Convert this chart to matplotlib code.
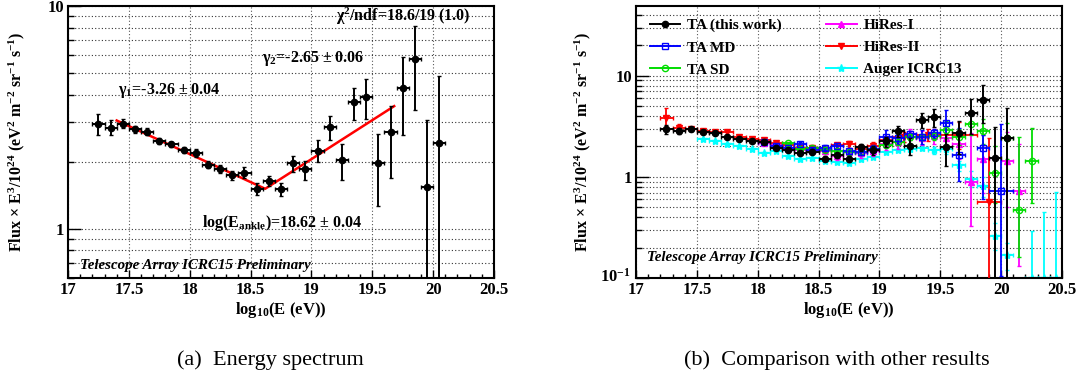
import matplotlib
matplotlib.use('Agg')
import matplotlib.pyplot as plt
from matplotlib.ticker import FixedLocator, FuncFormatter, NullFormatter
from matplotlib.lines import Line2D
from matplotlib.transforms import ScaledTranslation
import numpy as np

plt.rcParams['font.family'] = ['Liberation Serif', 'DejaVu Serif']
plt.rcParams['font.weight'] = 'bold'
plt.rcParams['mathtext.fontset'] = 'custom'
plt.rcParams['mathtext.rm'] = 'Liberation Serif:bold'
plt.rcParams['mathtext.it'] = 'Liberation Serif:bold:italic'
plt.rcParams['mathtext.bf'] = 'Liberation Serif:bold'

# ---------------- data ----------------
ta_x = [17.25, 17.35, 17.45, 17.55, 17.65, 17.75, 17.85, 17.95, 18.05, 18.15,
        18.25, 18.35, 18.45, 18.55, 18.65, 18.75, 18.85, 18.95, 19.05, 19.15,
        19.25, 19.35, 19.45, 19.55, 19.65, 19.75, 19.85, 19.95, 20.05]
ta_y = [2.96, 2.84, 2.96, 2.80, 2.73, 2.47, 2.39, 2.26, 2.19, 1.94,
        1.85, 1.74, 1.78, 1.51, 1.64, 1.50, 1.97, 1.86, 2.24, 2.85,
        2.03, 3.69, 3.91, 1.97, 2.72, 4.29, 5.80, 1.53, 2.42]
ta_hi = [3.28, 3.06, 3.10, 2.90, 2.82, 2.55, 2.46, 2.33, 2.28, 2.02,
         1.93, 1.82, 1.89, 1.60, 1.73, 1.60, 2.12, 2.02, 2.49, 3.19,
         2.40, 4.30, 4.69, 2.67, 3.56, 5.93, 8.13, 3.08, 4.85]
ta_lo = [2.64, 2.64, 2.82, 2.70, 2.64, 2.40, 2.32, 2.19, 2.10, 1.87,
         1.77, 1.66, 1.68, 1.42, 1.55, 1.40, 1.80, 1.66, 1.99, 2.49,
         1.66, 3.06, 3.10, 1.27, 1.69, 2.64, 3.42, 0.01, 0.01]

fit_x = [17.40, 18.62, 19.68]
fit_y = [3.06, 1.51, 3.55]

md_x = [18.05, 18.15, 18.25, 18.35, 18.45, 18.55, 18.65, 18.75, 18.85, 18.95,
        19.05, 19.15, 19.25, 19.35, 19.45, 19.55, 19.65, 19.85, 20.00]
md_xe = [0.05]*17 + [0.05, 0.10]
md_y = [2.19, 2.02, 1.93, 2.10, 1.85, 1.95, 2.03, 1.81, 1.78, 1.90,
        2.48, 2.41, 2.63, 2.48, 2.73, 3.42, 1.64, 1.95, 0.73]
md_hi = [2.27, 2.10, 2.02, 2.20, 1.95, 2.06, 2.15, 1.93, 1.92, 2.06,
         2.90, 2.70, 2.85, 2.90, 3.00, 4.60, 3.06, 2.60, 3.30]
md_lo = [2.11, 1.94, 1.85, 2.00, 1.75, 1.84, 1.91, 1.69, 1.64, 1.74,
         2.10, 2.12, 2.42, 2.10, 2.45, 1.88, 0.91, 0.60, 0.105]

sd_x = [18.25, 18.35, 18.45, 18.55, 18.65, 18.75, 18.85, 18.95, 19.05, 19.15,
        19.25, 19.35, 19.45, 19.55, 19.65, 19.75, 19.85, 19.95, 20.05, 20.15,
        20.25]
sd_y = [2.14, 1.88, 1.95, 1.85, 1.80, 1.75, 1.75, 1.88, 2.05, 2.20,
        2.48, 2.48, 2.55, 2.94, 2.48, 3.34, 2.84, 1.09, 2.45, 0.475,
        1.45]
sd_hi = [2.18, 1.92, 1.99, 1.89, 1.84, 1.80, 1.80, 1.95, 2.13, 2.30,
         2.62, 2.65, 2.78, 3.60, 3.00, 4.30, 3.70, 2.00, 3.40, 2.50,
         3.06]
sd_lo = [2.10, 1.84, 1.91, 1.81, 1.76, 1.70, 1.70, 1.81, 1.97, 2.10,
         2.34, 2.31, 2.32, 2.40, 2.05, 2.60, 2.10, 0.55, 1.50, 0.16,
         0.55]

h1_x = [18.05, 18.15, 18.25, 18.35, 18.45, 18.55, 18.65, 18.75, 18.85, 18.95,
        19.05, 19.15, 19.25, 19.35, 19.45, 19.55, 19.65, 19.75, 19.85, 20.05,
        20.15]
h1_y = [2.15, 2.05, 1.95, 1.85, 1.85, 1.80, 1.60, 1.75, 1.71, 1.80,
        2.10, 2.20, 2.63, 2.45, 2.55, 2.45, 2.10, 0.90, 1.50, 1.45,
        0.73]
h1_hi = [2.22, 2.12, 2.03, 1.94, 1.95, 1.92, 1.72, 1.90, 1.88, 2.00,
         2.35, 2.50, 2.95, 2.85, 3.00, 3.00, 2.80, 2.70, 2.60, 2.80,
         2.10]
h1_lo = [2.08, 1.98, 1.87, 1.76, 1.75, 1.68, 1.48, 1.60, 1.54, 1.60,
         1.85, 1.90, 2.30, 2.05, 2.10, 1.90, 1.50, 0.33, 0.70, 0.50,
         0.13]

h2_x = [17.25, 17.35, 17.45, 17.55, 17.65, 17.75, 17.85, 17.95, 18.05, 18.15,
        18.25, 18.35, 18.45, 18.55, 18.65, 18.75, 18.85, 18.95, 19.05, 19.20,
        19.40, 19.65, 19.90]
h2_xe = [0.05]*19 + [0.10, 0.10, 0.15, 0.10]
h2_y = [3.80, 3.05, 3.00, 2.85, 2.80, 2.75, 2.50, 2.35, 2.30, 2.15,
        2.05, 1.95, 1.95, 1.85, 2.05, 2.10, 1.90, 2.00, 2.30, 2.50,
        2.60, 2.60, 0.56]
h2_hi = [4.80, 3.30, 3.15, 2.95, 2.90, 2.85, 2.60, 2.45, 2.40, 2.25,
         2.15, 2.05, 2.06, 1.97, 2.18, 2.25, 2.06, 2.20, 2.55, 2.80,
         2.95, 3.50, 2.40]
h2_lo = [3.10, 2.80, 2.85, 2.75, 2.70, 2.65, 2.40, 2.25, 2.20, 2.05,
         1.95, 1.85, 1.84, 1.73, 1.92, 1.95, 1.74, 1.80, 2.05, 2.20,
         2.25, 1.90, 0.01]

au_x = [17.55, 17.65, 17.75, 17.85, 17.95, 18.05, 18.15, 18.25, 18.35, 18.45,
        18.55, 18.65, 18.75, 18.85, 18.95, 19.05, 19.15, 19.25, 19.35, 19.45,
        19.55, 19.65, 19.75, 19.85, 19.95, 20.05, 20.25, 20.35, 20.45]
au_y = [2.35, 2.27, 2.10, 2.03, 1.88, 1.71, 1.81, 1.62, 1.49, 1.55,
        1.45, 1.40, 1.38, 1.49, 1.59, 1.75, 1.86, 1.88, 1.95, 1.84,
        1.88, 1.30, 0.96, 0.81, 0.26, 0.167, 0.10, 0.10, 0.10]
au_hi = [2.39, 2.31, 2.14, 2.07, 1.92, 1.75, 1.85, 1.66, 1.53, 1.59,
         1.49, 1.44, 1.42, 1.54, 1.64, 1.81, 1.93, 1.97, 2.06, 1.98,
         2.06, 1.45, 1.15, 1.00, 0.35, 0.22, 0.29, 0.45, 0.71]
au_lo = [2.31, 2.23, 2.06, 1.99, 1.84, 1.67, 1.77, 1.58, 1.45, 1.51,
         1.41, 1.36, 1.34, 1.44, 1.54, 1.69, 1.79, 1.79, 1.84, 1.70,
         1.70, 1.15, 0.80, 0.63, 0.19, 0.12, 0.01, 0.01, 0.01]

xticks = [17, 17.5, 18, 18.5, 19, 19.5, 20, 20.5]
left_yticks = [1, 10]
left_ylabels = ['1', '10']
right_yticks = [0.1, 1, 10]
right_ylabels = [r'10$^{-1}$', '1', '10']

ylabel = r'Flux $\times$ E$^{3}$/10$^{24}$ (eV$^{2}$ m$^{-2}$ sr$^{-1}$ s$^{-1}$)'
xlabel = r'log$_{10}$(E (eV))'

# ---------------- figure ----------------
W, H = 1081, 381
fig = plt.figure(figsize=(W/100, H/100), dpi=100)
axL = fig.add_axes([68/W, 103/H, 426/W, 272/H])
axR = fig.add_axes([636/W, 103/H, 426/W, 272/H])


def minor_log(lo, hi):
    out = []
    dec = 10.0 ** np.floor(np.log10(lo))
    while dec < hi:
        for m in range(2, 10):
            v = m * dec
            if lo <= v <= hi:
                out.append(v)
        dec *= 10
    return out


def style(ax, ylim, yticks, ylabels):
    ax.set_xlim(17, 20.5)
    ax.set_yscale('log')
    ax.set_ylim(*ylim)
    ax.xaxis.set_major_locator(FixedLocator(xticks))
    ax.xaxis.set_major_formatter(FuncFormatter(lambda v, p: '%g' % v))
    ax.xaxis.set_minor_locator(FixedLocator(list(np.round(np.arange(17.0, 20.51, 0.1), 2))))
    ax.yaxis.set_major_locator(FixedLocator(yticks))
    ax.yaxis.set_major_formatter(FuncFormatter(lambda v, p: ylabels[yticks.index(min(yticks, key=lambda t: abs(t - v)))]))
    ax.yaxis.set_minor_locator(FixedLocator(minor_log(ylim[0], ylim[1])))
    ax.yaxis.set_minor_formatter(NullFormatter())
    ax.tick_params(axis='both', which='both', direction='in', top=False, right=False,
                   labelsize=12, width=1.0)
    ax.tick_params(axis='x', which='major', length=6, pad=3)
    ax.tick_params(axis='x', which='minor', length=3)
    ax.tick_params(axis='y', which='major', length=9, pad=3)
    ax.tick_params(axis='y', which='minor', length=4)
    for lab in ax.get_xticklabels() + ax.get_yticklabels():
        lab.set_fontweight('bold')
    ax.grid(True, which='major', axis='x', color='0.35', linestyle=(0, (1, 2)), lw=0.8)
    ax.grid(True, which='both', axis='y', color='0.2', linestyle=(0, (1, 2)), lw=0.8)
    for s in ax.spines.values():
        s.set_linewidth(1.5)
    ax.set_axisbelow(True)


def ebar(ax, x, y, lo, hi, xe, color, marker, mfc, ms, zorder, lw=1.3):
    y = np.array(y); lo = np.array(lo); hi = np.array(hi)
    ax.errorbar(x, y, yerr=[y - lo, hi - y], xerr=xe, fmt=marker, color=color,
                mfc=mfc, mec=color, ms=ms, elinewidth=lw, capsize=1.2, capthick=lw,
                mew=1.0, zorder=zorder)


# ---- left panel ----
style(axL, (0.6, 10), left_yticks, left_ylabels)
axL.plot(fit_x, fit_y, color='red', lw=1.8, zorder=3)
ebar(axL, ta_x, ta_y, ta_lo, ta_hi, 0.05, 'black', 'o', 'black', 4.5, 4, lw=1.4)


def px2L(px, py):
    return 17 + (px - 68) / 121.7, 10 ** ((229 - py) / 223.0)


tkw = dict(fontsize=11.5, fontweight='bold', va='center', ha='left')
axL.text(*px2L(118, 91), r'γ$_{1}$=-3.26 ± 0.04', **tkw)
axL.text(*px2L(262, 59), r'γ$_{2}$=-2.65 ± 0.06', **tkw)
axL.text(*px2L(336, 16), r'χ$^{2}$/ndf=18.6/19 (1.0)', **tkw)
axL.text(*px2L(202, 223), r'log(E$_{\mathrm{ankle}}$)=18.62 ± 0.04', **tkw)
axL.text(*px2L(80, 266), 'Telescope Array ICRC15 Preliminary', fontsize=10.8,
         fontweight='bold', style='italic', va='center', ha='left')

# ---- right panel ----
style(axR, (0.1, 49), right_yticks, right_ylabels)
ebar(axR, au_x, au_y, au_lo, au_hi, 0.05, 'cyan', '*', 'cyan', 6, 2)
ebar(axR, h1_x, h1_y, h1_lo, h1_hi, 0.05, 'magenta', '^', 'magenta', 4.5, 3)
ebar(axR, h2_x, h2_y, h2_lo, h2_hi, h2_xe, 'red', 'v', 'red', 4.5, 3)
ebar(axR, sd_x, sd_y, sd_lo, sd_hi, 0.05, '#00dd00', 'o', 'none', 4.5, 4)
ebar(axR, md_x, md_y, md_lo, md_hi, md_xe, 'blue', 's', 'none', 5, 4)
ebar(axR, ta_x, ta_y, ta_lo, ta_hi, 0.05, 'black', 'o', 'black', 4.5, 5, lw=1.4)

# nudge the lowest right-panel y label slightly up/left so it clears the "17" x label
t0 = axR.yaxis.get_major_ticks()[0]
t0.label1.set_transform(t0.label1.get_transform() + ScaledTranslation(-1/100, 3/100, fig.dpi_scale_trans))


def px2R(px, py):
    return 17 + (px - 636) / 121.7, 10 ** ((180 - py) / 103.0)


axR.text(*px2R(647, 262), 'Telescope Array ICRC15 Preliminary', fontsize=10.8,
         fontweight='bold', style='italic', va='center', ha='left')

handles = [
    Line2D([], [], color='black', marker='o', mfc='black', ms=4.5, lw=1.4),
    Line2D([], [], color='blue', marker='s', mfc='none', ms=5, lw=1.4),
    Line2D([], [], color='#00dd00', marker='o', mfc='none', ms=4.5, lw=1.4),
    Line2D([], [], color='magenta', marker='^', mfc='magenta', ms=4.5, lw=1.4),
    Line2D([], [], color='red', marker='v', mfc='red', ms=4.5, lw=1.4),
    Line2D([], [], color='cyan', marker='*', mfc='cyan', ms=6, lw=1.4),
]
labels = ['TA (this work)', 'TA MD', 'TA SD', 'HiRes-I', 'HiRes-II', 'Auger ICRC13']
leg = axR.legend(handles, labels, ncol=2, loc='upper left', bbox_to_anchor=(0.025, 0.965),
                 frameon=False, fontsize=11, handlelength=2.0, handletextpad=0.45,
                 columnspacing=2.9, labelspacing=0.55, borderaxespad=0, borderpad=0.2)
for t in leg.get_texts():
    t.set_fontweight('bold')

# ---- axis titles and captions ----
fig.text(17/W, 1 - 142/H, ylabel, rotation=90, ha='center', va='center', fontsize=11.5, fontweight='bold')
fig.text(583/W, 1 - 142/H, ylabel, rotation=90, ha='center', va='center', fontsize=11.5, fontweight='bold')
fig.text(281/W, 1 - 310/H, xlabel, ha='center', va='center', fontsize=12, fontweight='bold')
fig.text(849/W, 1 - 310/H, xlabel, ha='center', va='center', fontsize=12, fontweight='bold')
fig.text(270/W, 1 - 360/H, '(a)  Energy spectrum', ha='center', va='center', fontsize=16, fontweight='normal')
fig.text(837/W, 1 - 360/H, '(b)  Comparison with other results', ha='center', va='center', fontsize=16, fontweight='normal')

fig.savefig('out.png', dpi=100)
